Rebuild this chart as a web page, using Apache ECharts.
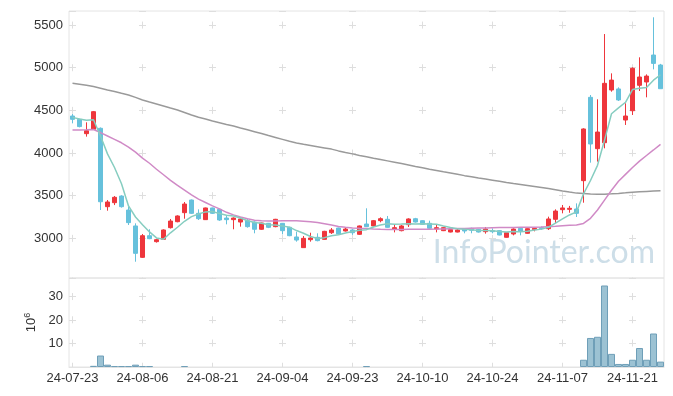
<!DOCTYPE html>
<html>
<head>
<meta charset="utf-8">
<script src="https://cdn.jsdelivr.net/npm/echarts@6/dist/echarts.min.js"></script>
<style>
html,body{margin:0;padding:0;background:#fff;}
#chart{width:673px;height:396px;}
</style>
</head>
<body>
<div id="chart"></div>
<script>
const dates = [
'24-07-23','24-07-24','24-07-25','24-07-26','24-07-29','24-07-30','24-07-31',
'24-08-01','24-08-02','24-08-05','24-08-06','24-08-07','24-08-08','24-08-09','24-08-12','24-08-13','24-08-14','24-08-16','24-08-19','24-08-20','24-08-21','24-08-22','24-08-23','24-08-26','24-08-27','24-08-28','24-08-29','24-08-30',
'24-09-02','24-09-03','24-09-04','24-09-05','24-09-06','24-09-09','24-09-10','24-09-11','24-09-12','24-09-13','24-09-19','24-09-20','24-09-23','24-09-24','24-09-25','24-09-26','24-09-27','24-09-30',
'24-10-02','24-10-04','24-10-07','24-10-08','24-10-10','24-10-11','24-10-14','24-10-15','24-10-16','24-10-17','24-10-18','24-10-21','24-10-22','24-10-23','24-10-24','24-10-25','24-10-28','24-10-29','24-10-30','24-10-31',
'24-11-01','24-11-04','24-11-05','24-11-06','24-11-07','24-11-08','24-11-11','24-11-12','24-11-13','24-11-14','24-11-15','24-11-18','24-11-19','24-11-20','24-11-21','24-11-22','24-11-25','24-11-26','24-11-27'
];
const opens = [4434,4395,4227,4278,4290,3371,3418,3496,3332,3145,2777,3031,2961,2988,3125,3195,3301,3449,3293,3219,3356,3340,3238,3219,3191,3207,3191,3106,3176,3137,3176,3129,3016,2891,2984,3012,2988,3066,3121,3086,3098,3047,3168,3145,3207,3223,3109,3090,3160,3230,3207,3176,3109,3090,3074,3074,3113,3117,3106,3078,3090,3090,3012,3051,3117,3059,3102,3125,3113,3223,3336,3340,3344,3676,4653,4051,4121,4739,4751,4387,4496,4794,4833,5149,5032];
const closes = [4395,4310,4262,4485,3429,3426,3481,3371,3184,2824,3031,2996,2984,3098,3203,3262,3402,3293,3230,3356,3293,3215,3219,3238,3227,3137,3106,3180,3129,3223,3090,3031,2980,3000,3004,2973,3082,3098,3051,3109,3066,3145,3137,3207,3230,3129,3125,3145,3227,3191,3164,3117,3125,3125,3102,3098,3086,3094,3074,3109,3078,3039,3066,3109,3082,3113,3117,3113,3227,3320,3356,3352,3293,4282,4106,4246,4817,4855,4622,4434,4993,4891,4902,5051,4754];
const lows = [4348,4301,4192,4270,3332,3324,3390,3360,3156,2726,2770,2990,2950,2985,3115,3188,3230,3285,3215,3215,3285,3205,3164,3106,3137,3125,3059,3100,3120,3130,3047,3025,2961,2891,2961,2965,2985,3051,3045,3080,3040,3040,3133,3140,3188,3125,3070,3082,3133,3185,3160,3110,3070,3085,3070,3070,3059,3059,3068,3055,3059,3035,3008,3035,3035,3055,3082,3100,3098,3180,3293,3300,3250,3418,3887,3899,4055,4719,4610,4329,4446,4727,4653,4981,4754];
const highs = [4457,4402,4360,4493,4300,3449,3496,3505,3371,3176,3051,3106,2996,3105,3227,3270,3426,3455,3340,3360,3360,3345,3262,3245,3246,3230,3199,3185,3180,3228,3180,3135,3078,3027,3066,3059,3088,3121,3125,3125,3110,3150,3352,3215,3246,3262,3156,3156,3235,3240,3212,3207,3156,3130,3108,3117,3118,3125,3110,3133,3117,3095,3070,3117,3133,3117,3133,3140,3254,3340,3391,3380,3410,4290,4680,4630,5395,4934,4770,4583,5005,5122,4922,5591,5045];
const ma5 = [4418,4400,4385,4390,4200,3990,3830,3640,3380,3250,3160,3075,3005,2990,3065,3130,3200,3255,3285,3310,3315,3290,3270,3262,3238,3207,3185,3176,3158,3155,3146,3131,3091,3060,3022,2998,3008,3031,3042,3063,3081,3094,3102,3133,3157,3170,3166,3167,3171,3168,3170,3169,3165,3144,3127,3113,3107,3101,3091,3092,3088,3079,3073,3081,3076,3083,3098,3108,3130,3178,3227,3274,3310,3521,3678,3856,4149,4461,4529,4595,4744,4759,4768,4854,4918];
const ma20 = [4270,4271,4273,4276,4240,4200,4160,4120,4070,4010,3940,3880,3810,3745,3680,3620,3565,3510,3460,3420,3380,3345,3305,3275,3250,3230,3213,3205,3203,3203,3205,3207,3205,3200,3195,3185,3170,3155,3140,3130,3122,3117,3115,3110,3107,3105,3105,3105,3106,3106,3106,3107,3108,3110,3112,3114,3116,3118,3120,3122,3124,3126,3127,3128,3129,3129,3130,3132,3137,3142,3148,3152,3156,3175,3235,3332,3448,3564,3669,3750,3830,3905,3971,4036,4102];
const ma120 = [4817,4806,4795,4780,4760,4740,4722,4700,4680,4652,4622,4598,4575,4551,4527,4504,4475,4446,4419,4400,4375,4355,4335,4317,4294,4272,4250,4228,4205,4183,4160,4137,4117,4102,4088,4074,4060,4046,4025,4007,3990,3972,3957,3940,3924,3908,3892,3876,3860,3843,3827,3810,3795,3780,3766,3751,3735,3722,3708,3695,3682,3668,3654,3642,3631,3620,3608,3596,3583,3569,3555,3542,3530,3525,3520,3516,3518,3522,3527,3533,3540,3545,3550,3554,3558];
const volume = [0,0,0,0.5,4.9,1.0,0.4,0.4,0.4,1.0,0.4,0.4,0,0,0,0,0.4,0,0,0,0,0,0,0,0,0,0,0,0,0,0,0,0,0,0,0,0,0,0,0,0,0,0.4,0,0,0,0,0,0,0,0,0,0,0,0,0,0,0,0,0,0,0,0,0,0,0,0,0,0,0,0,0,0,3.1,12.4,12.9,34.8,5.6,1.3,1.3,3.1,8.1,3.1,14.3,2.3];
const volumeUnitLabel = ['10', '6'];
const watermark = 'InfoPointer.com';

const candleData = dates.map((d, i) => [opens[i], closes[i], lows[i], highs[i]]);
const volumeData = volume.map(v => (v > 0 ? v : {value: v, itemStyle: {borderWidth: 0, opacity: 0}}));

const FONT = 'Liberation Sans';
const crossColor = '#dedede';
const frameColor = '#e4e4e4';

const chart = echarts.init(document.getElementById('chart'), null, {renderer: 'canvas'});
chart.setOption({
  animation: false,
  backgroundColor: '#ffffff',
  textStyle: {fontFamily: FONT},
  grid: [
    {left: 69, right: 9, top: 11, height: 267, show: true, borderColor: frameColor, borderWidth: 1, backgroundColor: 'transparent'},
    {left: 69, right: 9, top: 278, height: 89, show: true, borderColor: frameColor, borderWidth: 1, backgroundColor: 'transparent'}
  ],
  xAxis: [
    {
      type: 'category', gridIndex: 0, data: dates, boundaryGap: true,
      axisLine: {show: false}, axisTick: {show: false}, axisLabel: {show: false},
      splitLine: {show: true, interval: 9, alignWithLabel: true,
        lineStyle: {color: crossColor, width: 1, type: [7, 35.652], dashOffset: 32.08}}
    },
    {
      type: 'category', gridIndex: 1, data: dates, boundaryGap: true,
      axisLine: {show: true, lineStyle: {color: frameColor}}, axisTick: {show: false},
      axisLabel: {show: true, interval: 9, color: '#333', fontSize: 13, fontFamily: FONT, margin: 5},
      splitLine: {show: true, interval: 9, alignWithLabel: true,
        lineStyle: {color: crossColor, width: 1, type: [7, 16.237], dashOffset: 8.184}}
    }
  ],
  yAxis: [
    {
      type: 'value', gridIndex: 0, min: 2535, max: 5665, scale: true,
      axisLine: {show: false}, axisTick: {show: false},
      axisLabel: {color: '#333', fontSize: 13, fontFamily: FONT, margin: 6,
        formatter: v => (v % 500 === 0 ? String(v) : '')},
      splitLine: {show: true, lineStyle: {color: crossColor, width: 1, type: [7, 63], dashOffset: 0}}
    },
    {
      type: 'value', gridIndex: 1, min: 0, max: 38,
      axisLine: {show: false}, axisTick: {show: false},
      axisLabel: {color: '#333', fontSize: 13, fontFamily: FONT, margin: 6,
        formatter: v => (v > 0 && v % 10 === 0 ? String(v) : '')},
      splitLine: {show: true, lineStyle: {color: crossColor, width: 1, type: [7, 63], dashOffset: 0}},
      name: '{a|' + volumeUnitLabel[0] + '}{b|' + volumeUnitLabel[1] + '}',
      nameLocation: 'middle', nameRotate: 90, nameGap: 30,
      nameTextStyle: {
        color: '#333', fontFamily: FONT,
        rich: {
          a: {fontSize: 13, color: '#333', fontFamily: FONT, lineHeight: 16},
          b: {fontSize: 9, color: '#333', fontFamily: FONT, verticalAlign: 'top', lineHeight: 16}
        }
      }
    }
  ],
  graphic: [{
    type: 'text', right: 18, top: 237, silent: true, z: 0,
    style: {text: watermark, fill: '#cddee8', font: '32px Lato'}
  }],
  series: [
    {
      name: 'price', type: 'candlestick', xAxisIndex: 0, yAxisIndex: 0,
      data: candleData, barWidth: 5,
      itemStyle: {color: '#ee363c', color0: '#66c1dc', borderColor: '#ee363c', borderColor0: '#66c1dc', borderWidth: 1}
    },
    {name: 'MA120', type: 'line', xAxisIndex: 0, yAxisIndex: 0, data: ma120, symbol: 'none',
      lineStyle: {color: '#9a9a9a', width: 1.5}},
    {name: 'MA20', type: 'line', xAxisIndex: 0, yAxisIndex: 0, data: ma20, symbol: 'none',
      lineStyle: {color: '#d08ac6', width: 1.5}},
    {name: 'MA5', type: 'line', xAxisIndex: 0, yAxisIndex: 0, data: ma5, symbol: 'none',
      lineStyle: {color: '#86cdc0', width: 1.5}},
    {
      name: 'volume', type: 'bar', xAxisIndex: 1, yAxisIndex: 1, data: volumeData,
      barCategoryGap: '0%',
      itemStyle: {color: '#9cc2d3', borderColor: '#6f9fb8', borderWidth: 1}
    }
  ]
});
</script>
</body>
</html>
